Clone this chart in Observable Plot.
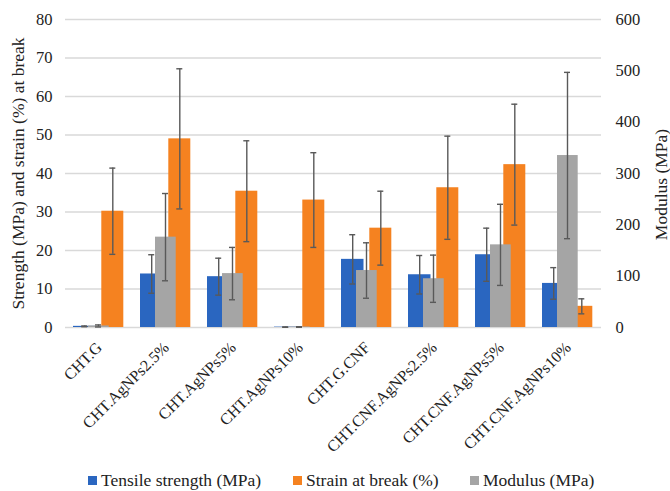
<!DOCTYPE html>
<html>
<head>
<meta charset="utf-8">
<script src="https://cdn.jsdelivr.net/npm/d3@7"></script>
<script src="https://cdn.jsdelivr.net/npm/@observablehq/plot@0.6"></script>
<style>
  html, body { margin: 0; padding: 0; background: #fff; }
  #chart { width: 670px; }
  #chart svg text { font-family: 'Liberation Serif', 'Times New Roman', serif !important; }
  .legend { position: relative; height: 29px; font-family: 'Liberation Serif', 'Times New Roman', serif; font-size: 17.5px; color: #222; }
  .legend .item { position: absolute; top: 0; height: 36px; display: flex; align-items: center; white-space: nowrap; }
  .legend .sw { width: 9px; height: 9px; margin-right: 4px; }
</style>
</head>
<body>
<div id="chart"></div>
<script>
const categories = ["CHT.G", "CHT.AgNPs2.5%", "CHT.AgNPs5%", "CHT.AgNPs10%", "CHT.G.CNF", "CHT.CNF.AgNPs2.5%", "CHT.CNF.AgNPs5%", "CHT.CNF.AgNPs10%"];
const tensile    = [0.3, 13.9, 13.2, 0.1, 17.7, 13.7, 18.9, 11.45];
const tensileErr = [0.1, 5.0, 4.8, 0.05, 6.4, 5.0, 6.9, 4.1];
const strain     = [30.2, 49.0, 35.4, 33.1, 25.8, 36.3, 42.3, 5.5];
const strainErr  = [11.2, 18.2, 13.1, 12.3, 9.6, 13.4, 15.7, 1.95];
const modulus    = [3, 176, 105, 1, 111, 95, 161, 335];
const modulusErr = [2, 85, 51, 0.5, 54, 46, 79, 162];
const leftTicks  = [0, 10, 20, 30, 40, 50, 60, 70, 80];
const rightTicks = [0, 100, 200, 300, 400, 500, 600];
const seriesNames = ["Tensile strength (MPa)", "Strain at break (%)", "Modulus (MPa)"];
const colors = ["#2a66c0", "#f58220", "#a5a5a5"];
const leftTitle = "Strength (MPa) and strain (%) at break";
const rightTitle = "Modulus (MPa)";

const ratio = 600 / 80; // secondary axis to primary axis
const rows = categories.map((c, i) => ({
  cat: c,
  t: tensile[i], te: tensileErr[i],
  s: strain[i], se: strainErr[i],
  m: modulus[i] / ratio, me: modulusErr[i] / ratio
}));

const font = "'Liberation Serif', 'Times New Roman', serif";
const errColor = "#595959";

function errBars(v, e, dx) {
  return [
    Plot.ruleX(rows, {x: "cat", y1: d => d[v] - d[e], y2: d => d[v] + d[e], dx, stroke: errColor, strokeWidth: 1.4}),
    Plot.tickY(rows, {x: "cat", y: d => d[v] + d[e], dx, stroke: errColor, strokeWidth: 1.4, insetLeft: 30.5, insetRight: 30.5}),
    Plot.tickY(rows, {x: "cat", y: d => d[v] - d[e], dx, stroke: errColor, strokeWidth: 1.4, insetLeft: 30.5, insetRight: 30.5})
  ];
}

const chart = Plot.plot({
  width: 670,
  height: 462,
  marginLeft: 65,
  marginRight: 69,
  marginTop: 19,
  marginBottom: 135,
  style: {fontFamily: font, fontSize: "16px", color: "#222", background: "#fff"},
  x: {domain: categories, padding: 0, axis: null},
  y: {domain: [0, 80], axis: null},
  marks: [
    Plot.gridY(leftTicks, {stroke: "#d9d9d9", strokeOpacity: 1, strokeWidth: 1.3}),
    Plot.axisY(leftTicks, {anchor: "left", tickSize: 0, tickPadding: 13, label: null, fontSize: 16.5, fontFamily: font}),
    Plot.axisY(rightTicks.map(v => v / ratio), {anchor: "right", tickSize: 0, tickPadding: 14, label: null, fontSize: 16.5, fontFamily: font, tickFormat: d => String(Math.round(d * ratio))}),
    Plot.barY(rows, {x: "cat", y: "t", fill: colors[0], insetLeft: 8, insetRight: 36.5}),
    Plot.barY(rows, {x: "cat", y: "s", fill: colors[1], insetLeft: 36.3, insetRight: 8.7}),
    Plot.barY(rows, {x: "cat", y: "m", fill: colors[2], insetLeft: 23, insetRight: 23.3}),
    ...errBars("t", "te", -14.3),
    ...errBars("m", "me", -0.5),
    ...errBars("s", "se", 13.8),
    Plot.text(rows, {x: "cat", text: "cat", frameAnchor: "bottom", dy: 21, dx: 4, rotate: -45, textAnchor: "end", lineAnchor: "bottom", fontSize: 16, fontFamily: font, fill: "#222"}),
    Plot.text([leftTitle], {frameAnchor: "left", dx: -47, dy: 0, rotate: -90, textAnchor: "middle", lineAnchor: "middle", fontSize: 17.5, fontFamily: font, fill: "#222"}),
    Plot.text([rightTitle], {frameAnchor: "right", dx: 60, dy: 11, rotate: -90, textAnchor: "middle", lineAnchor: "middle", fontSize: 17.5, fontFamily: font, fill: "#222"})
  ]
});
document.getElementById("chart").appendChild(chart);

const legendX = [88, 293, 470];
const legend = document.createElement("div");
legend.className = "legend";
seriesNames.forEach((n, i) => {
  const item = document.createElement("div");
  item.className = "item";
  item.style.left = legendX[i] + "px";
  const sw = document.createElement("span");
  sw.className = "sw";
  sw.style.background = colors[i];
  const label = document.createElement("span");
  label.textContent = n;
  item.appendChild(sw);
  item.appendChild(label);
  legend.appendChild(item);
});
document.getElementById("chart").appendChild(legend);
</script>
</body>
</html>
